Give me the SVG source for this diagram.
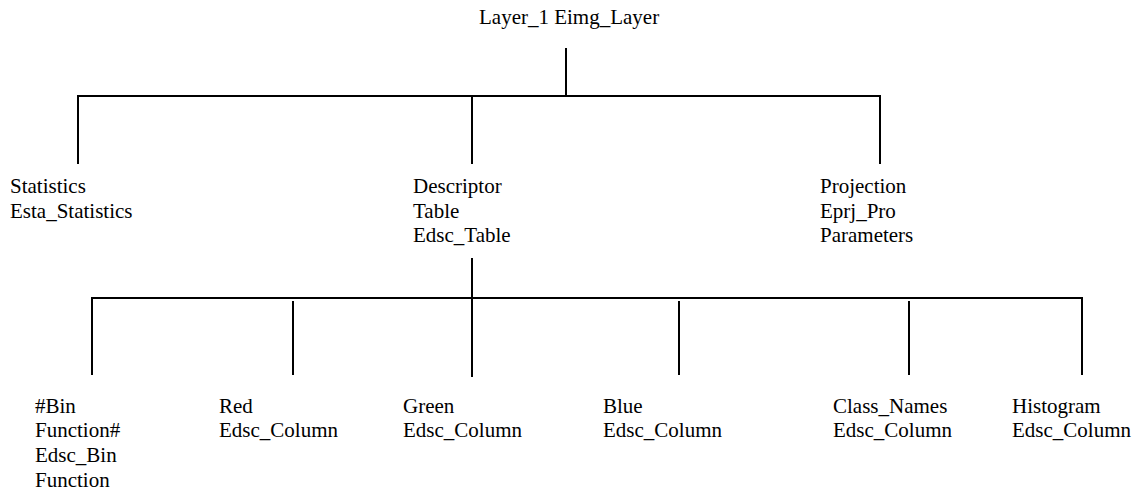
<svg xmlns="http://www.w3.org/2000/svg" width="1136" height="492" viewBox="0 0 1136 492">
<style>
text{font-family:"Liberation Serif","Times New Roman",serif;font-size:21px;fill:#000}
.c line{stroke:#000;stroke-width:2;fill:none}
</style>
<rect width="1136" height="492" fill="#fff"/>
<g class="c" id="connectors">
<line x1="566" y1="48" x2="566" y2="97"/>
<line x1="77" y1="96" x2="881" y2="96"/>
<line x1="78" y1="96" x2="78" y2="164"/>
<line x1="472" y1="96" x2="472" y2="164"/>
<line x1="880" y1="96" x2="880" y2="164"/>
<line x1="472" y1="258" x2="472" y2="377"/>
<line x1="91" y1="298" x2="1083" y2="298"/>
<line x1="92" y1="298" x2="92" y2="375"/>
<line x1="293" y1="301" x2="293" y2="375"/>
<line x1="679" y1="301" x2="679" y2="375"/>
<line x1="909" y1="301" x2="909" y2="375"/>
<line x1="1082" y1="298" x2="1082" y2="375"/>
</g>
<g id="layer"><text x="479" y="24">Layer_1 Eimg_Layer</text></g>
<g id="statistics"><text x="10" y="193">Statistics</text><text x="10" y="218">Esta_Statistics</text></g>
<g id="descriptor"><text x="413" y="193">Descriptor</text><text x="413" y="218">Table</text><text x="413" y="242">Edsc_Table</text></g>
<g id="projection"><text x="820" y="193">Projection</text><text x="820" y="218">Eprj_Pro</text><text x="820" y="242">Parameters</text></g>
<g id="bin"><text x="35" y="413">#Bin</text><text x="35" y="437">Function#</text><text x="35" y="462">Edsc_Bin</text><text x="35" y="487">Function</text></g>
<g id="red"><text x="219" y="413">Red</text><text x="219" y="437">Edsc_Column</text></g>
<g id="green"><text x="403" y="413">Green</text><text x="403" y="437">Edsc_Column</text></g>
<g id="blue"><text x="603" y="413">Blue</text><text x="603" y="437">Edsc_Column</text></g>
<g id="classnames"><text x="833" y="413">Class_Names</text><text x="833" y="437">Edsc_Column</text></g>
<g id="histogram"><text x="1012" y="413">Histogram</text><text x="1012" y="437">Edsc_Column</text></g>
</svg>
